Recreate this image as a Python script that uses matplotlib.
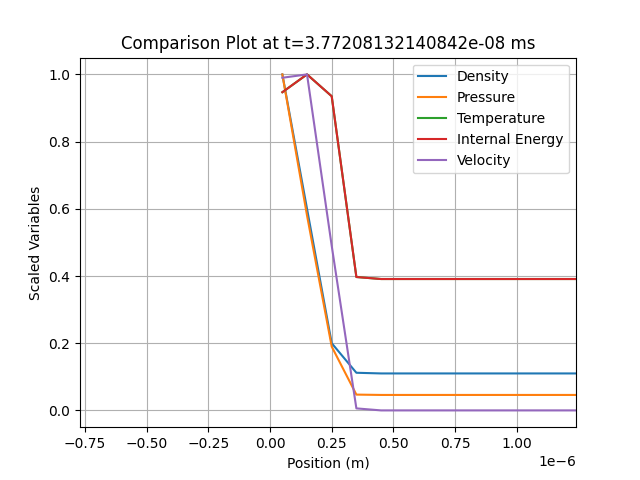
import matplotlib
matplotlib.use("Agg")
import matplotlib.pyplot as plt

# cell centres (m)
x = [0.05e-6, 0.15e-6, 0.25e-6, 0.35e-6, 0.45e-6, 0.55e-6, 0.65e-6,
     0.75e-6, 0.85e-6, 0.95e-6, 1.05e-6, 1.15e-6, 1.25e-6]

density = [1.0, 0.60, 0.20, 0.112, 0.110, 0.110, 0.110, 0.110, 0.110, 0.110, 0.110, 0.110, 0.110]
pressure = [1.0, 0.58, 0.19, 0.047, 0.046, 0.046, 0.046, 0.046, 0.046, 0.046, 0.046, 0.046, 0.046]
temperature = [0.947, 1.0, 0.935, 0.397, 0.391, 0.391, 0.391, 0.391, 0.391, 0.391, 0.391, 0.391, 0.391]
internal_energy = [0.947, 1.0, 0.935, 0.397, 0.391, 0.391, 0.391, 0.391, 0.391, 0.391, 0.391, 0.391, 0.391]
velocity = [0.99, 1.0, 0.49, 0.006, 0.0, 0.0, 0.0, 0.0, 0.0, 0.0, 0.0, 0.0, 0.0]

plt.figure(figsize=(6.4, 4.8), dpi=100)
plt.plot(x, density, label="Density")
plt.plot(x, pressure, label="Pressure")
plt.plot(x, temperature, label="Temperature")
plt.plot(x, internal_energy, label="Internal Energy")
plt.plot(x, velocity, label="Velocity")
plt.xlim(-0.77e-6, 1.24e-6)
plt.xlabel("Position (m)")
plt.ylabel("Scaled Variables")
plt.title("Comparison Plot at t=3.77208132140842e-08 ms")
plt.legend()
plt.grid(True)
plt.savefig("out.png")
